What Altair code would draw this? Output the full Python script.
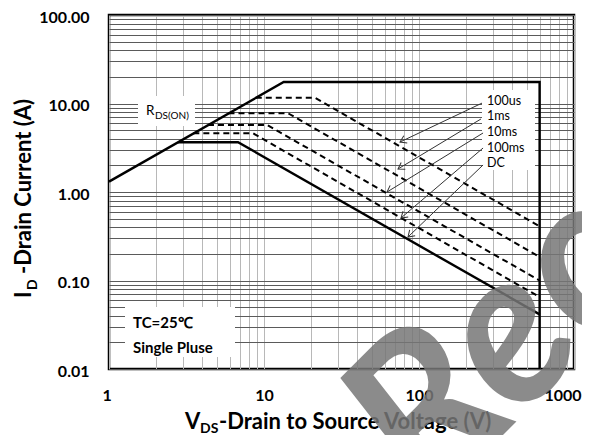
import math
import altair as alt
import pandas as pd

# ---------------- data ----------------
limit_v = [1, 13.4, 600, 600]
limit_i = [1.31, 17.5, 17.5, 0.01]
dc_v = [2.79, 6.8, 600]
dc_i = [3.65, 3.65, 0.0414]
ms100_v = [3.5, 8.5, 600]
ms100_i = [4.6, 4.6, 0.065]
ms10_v = [4.35, 10.5, 600]
ms10_i = [5.7, 5.7, 0.1]
ms1_v = [5.9, 14.3, 600]
ms1_i = [7.75, 7.75, 0.185]
us100_v = [8.85, 21.3, 600]
us100_i = [11.6, 11.6, 0.41]

legend_labels = ["100us", "1ms", "10ms", "100ms", "DC"]
arrow_x0 = [255, 251, 259, 259, 259]
arrow_y0 = [10.1, 6.68, 4.64, 3.14, 2.02]
arrow_x1 = [75.4, 73.2, 62.2, 76.5, 84.9]
arrow_y1 = [3.67, 1.82, 1.0, 0.508, 0.31]

x_major = [1, 10, 100, 1000]
y_major = [0.01, 0.1, 1, 10, 100]

# ---------------- tables ----------------
rows = []
for name, vs, cs, dash in [
    ("Limit", limit_v, limit_i, "solid"),
    ("DC", dc_v, dc_i, "solid"),
    ("100ms", ms100_v, ms100_i, "dash"),
    ("10ms", ms10_v, ms10_i, "dash"),
    ("1ms", ms1_v, ms1_i, "dash"),
    ("100us", us100_v, us100_i, "dash"),
]:
    for k, (v, c) in enumerate(zip(vs, cs)):
        rows.append({"series": name, "v": v, "i": c, "o": k, "style": dash})
lines_df = pd.DataFrame(rows)

PX_DEC_X = 155.0
PX_DEC_Y = 88.5
arr = []
for lab, x0, y0, x1, y1 in zip(legend_labels, arrow_x0, arrow_y0, arrow_x1, arrow_y1):
    dx = PX_DEC_X * math.log10(x1 / x0)
    dy = -PX_DEC_Y * math.log10(y1 / y0)
    ang = math.degrees(math.atan2(dy, dx)) % 360
    arr.append({"label": lab, "x0": x0, "y0": y0, "x1": x1, "y1": y1, "ang": ang})
arrows_df = pd.DataFrame(arr)

x_grid = sorted(set([round(m * 10 ** e, 6) for e in range(0, 3) for m in range(1, 10)] + x_major))
y_grid = sorted(set([round(m * 10 ** e, 6) for e in range(-2, 2) for m in range(1, 10)] + y_major))

FONT = "Lato"
one = pd.DataFrame({"a": [0]})

xs = alt.Scale(type="log", domain=[1, 1000], nice=False)
ys = alt.Scale(type="log", domain=[0.01, 100], nice=False)

x_axis = alt.Axis(
    values=x_grid, grid=True, gridColor="#b8b8b8", gridWidth=1,
    ticks=False, domain=False, labelOverlap=False,
    labelFlush=True, labelFlushOffset=7,
    labelExpr="indexof([1,10,100,1000], datum.value) >= 0 ? format(datum.value, 'd') : ''",
    labelFont=FONT, labelFontSize=16, labelFontWeight="bold", labelColor="black",
    labelPadding=18, title=None)
y_axis = alt.Axis(
    values=y_grid, grid=True, gridColor="#5a5a5a", gridWidth=1,
    ticks=False, domain=False, labelOverlap=False, labelFlush=False,
    labelOffset=2,
    labelExpr="indexof([0.01,0.1,1,10,100], datum.value) >= 0 ? format(datum.value, '.2f') : ''",
    labelFont=FONT, labelFontSize=16, labelFontWeight="bold", labelColor="black",
    labelPadding=20, title=None)

base_lines = alt.Chart(lines_df)

solid = base_lines.transform_filter(alt.datum.style == "solid").mark_line(
    color="black", strokeWidth=2.4
).encode(
    x=alt.X("v:Q", scale=xs, axis=x_axis),
    y=alt.Y("i:Q", scale=ys, axis=y_axis),
    detail="series:N",
    order="o:Q",
)

dashed = base_lines.transform_filter(alt.datum.style == "dash").mark_line(
    color="black", strokeWidth=2, strokeDash=[6, 4]
).encode(
    x=alt.X("v:Q", scale=xs, axis=x_axis),
    y=alt.Y("i:Q", scale=ys, axis=y_axis),
    detail="series:N",
    order="o:Q",
)

# white label boxes (pixel positions relative to plot area)
def box(x, x2, y, y2):
    return alt.Chart(one).mark_rect(color="white").encode(
        x=alt.value(x), x2=alt.value(x2), y=alt.value(y), y2=alt.value(y2))

boxes = box(29, 86, 81, 111) + box(373, 426, 75, 155) + box(16, 126, 292, 342)

arrow_lines = alt.Chart(arrows_df).mark_rule(color="#333333", strokeWidth=1).encode(
    x=alt.X("x0:Q", scale=xs, axis=x_axis), y=alt.Y("y0:Q", scale=ys, axis=y_axis),
    x2="x1:Q", y2="y1:Q")
arrow_heads = alt.Chart(arrows_df).mark_point(
    shape="M-1,-0.65L0,0L-1,0.65", filled=False, color="#333333", strokeWidth=1, size=150, opacity=1
).encode(
    x=alt.X("x1:Q", scale=xs, axis=x_axis), y=alt.Y("y1:Q", scale=ys, axis=y_axis),
    angle=alt.Angle("ang:Q", scale=None))

def txt(s, x, y, size, weight="normal", angle=0, style="normal", color="black", opacity=1.0):
    kw = dict(align="left", baseline="alphabetic", font=FONT, fontSize=size,
              fontWeight=weight, color=color, fontStyle=style, opacity=opacity)
    if angle:
        kw["angle"] = angle
    return alt.Chart(one).mark_text(**kw).encode(
        x=alt.value(x), y=alt.value(y), text=alt.value(s))

legend_y = [90, 105, 121, 137, 152]
legend_text = None
for lab, yy in zip(legend_labels, legend_y):
    t = txt(lab, 378, yy, 12.5)
    legend_text = t if legend_text is None else legend_text + t

texts = (
    txt("R", 37, 100, 13.5)
    + txt("DS(ON)", 46, 104, 10)
    + txt("TC=25℃", 24, 313, 15, "bold")
    + txt("Single Pluse", 24, 338, 15, "bold")
    + legend_text
    # axis titles with subscripts
    + txt("V", 76, 414, 22, "bold")
    + txt("DS", 91, 418, 14, "bold")
    + txt("-Drain to Source Voltage (V)", 110, 414, 22, "bold")
    + txt("I", -78, 283, 22, "bold", angle=270)
    + txt("D", -72, 275, 14, "bold", angle=270)
    + txt("-Drain Current (A)", -78, 259, 22, "bold", angle=270)
)

watermark = txt("Rec", 322, 492, 215, "bold", angle=315, style="italic",
                color="#777777", opacity=0.85)

chart = alt.layer(
    solid, boxes, dashed, arrow_lines, arrow_heads, texts, watermark
).properties(
    width=465, height=354,
    padding={"left": 101, "top": 7, "right": 8, "bottom": 66},
    autosize=alt.AutoSizeParams(type="none"),
    background="white",
).configure_view(
    stroke="black", strokeWidth=2.5
)

chart.save("out.html", embed_options={"renderer": "svg", "actions": False})
